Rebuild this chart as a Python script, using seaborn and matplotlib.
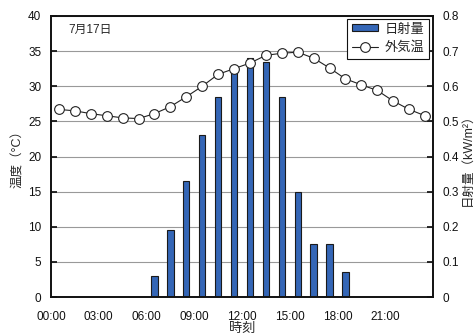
import matplotlib
matplotlib.use("Agg")
import matplotlib.pyplot as plt
import seaborn as sns
import pandas as pd

# ---- data ----
temp_hours = [0.5, 1.5, 2.5, 3.5, 4.5, 5.5, 6.5, 7.5, 8.5, 9.5, 10.5, 11.5,
              12.5, 13.5, 14.5, 15.5, 16.5, 17.5, 18.5, 19.5, 20.5, 21.5, 22.5, 23.5]
temp_values = [26.7, 26.5, 26.1, 25.8, 25.5, 25.4, 26.1, 27.1, 28.5, 30.0, 31.7, 32.5,
               33.3, 34.4, 34.7, 34.85, 34.0, 32.6, 31.05, 30.2, 29.4, 27.9, 26.7, 25.8]
rad_hours = [6.5, 7.5, 8.5, 9.5, 10.5, 11.5, 12.5, 13.5, 14.5, 15.5, 16.5, 17.5, 18.5]
rad_values = [0.06, 0.19, 0.33, 0.46, 0.57, 0.64, 0.68, 0.67, 0.57, 0.30, 0.15, 0.15, 0.07]
xtick_pos = [0, 3, 6, 9, 12, 15, 18, 21]
xtick_labels = ["00:00", "03:00", "06:00", "09:00", "12:00", "15:00", "18:00", "21:00"]
left_ticks = [0, 5, 10, 15, 20, 25, 30, 35, 40]
right_ticks = [0, 0.1, 0.2, 0.3, 0.4, 0.5, 0.6, 0.7, 0.8]
right_labels = ["0", "0.1", "0.2", "0.3", "0.4", "0.5", "0.6", "0.7", "0.8"]
date_label = "7月17日"
series_rad = "日射量"
series_temp = "外気温"

sns.set_theme(style="white")
plt.rcParams["font.family"] = ["Liberation Sans", "Noto Sans CJK JP", "DejaVu Sans"]

fig = plt.figure(figsize=(4.76, 3.36), dpi=100)
ax = fig.add_axes([51/476, 39/336, 382/476, 281/336])
ax2 = ax.twinx()
ax.set_zorder(2)
ax2.set_zorder(1)
ax.patch.set_visible(False)

df_rad = pd.DataFrame({"hour": rad_hours, "rad": rad_values})
df_temp = pd.DataFrame({"hour": temp_hours, "temp": temp_values})

sns.barplot(data=df_rad, x="hour", y="rad", ax=ax2, native_scale=True, width=0.4,
            color="#3466b6", saturation=1, edgecolor="#1a1a1a", linewidth=0.8)
sns.lineplot(data=df_temp, x="hour", y="temp", ax=ax, color="#222222", linewidth=0.8,
             marker="o", markersize=7, markerfacecolor="white",
             markeredgecolor="#222222", markeredgewidth=0.8)

ax.set_xlim(0, 24)
ax.set_ylim(0, 40)
ax2.set_ylim(0, 0.8)
ax.set_xticks(xtick_pos)
ax.set_xticklabels(xtick_labels)
ax.set_yticks(left_ticks)
ax2.set_yticks(right_ticks)
ax2.set_yticklabels(right_labels)

ax2.set_axisbelow(True)
ax2.grid(True, color="#999999", linewidth=0.8)
ax2.xaxis.grid(True)
ax.grid(False)

for a in (ax, ax2):
    for s in a.spines.values():
        s.set_color("#111111")
        s.set_linewidth(1.2)

ax.tick_params(axis="x", direction="in", length=4, pad=10, labelsize=8.5, colors="#111111")
ax.tick_params(axis="y", direction="in", length=4, pad=7, labelsize=8.5, colors="#111111")
ax2.tick_params(axis="y", direction="in", length=4, pad=7, labelsize=8.5, colors="#111111")
ax2.tick_params(axis="x", bottom=False, labelbottom=False)

ax.set_xlabel("時刻", fontsize=9.5, labelpad=0)
ax.set_ylabel("温度（°C）", fontsize=9, labelpad=3)
ax2.set_ylabel("日射量（kW/m²）", fontsize=9, labelpad=2)

ax.text(0.045, 0.95, date_label, transform=ax.transAxes, fontsize=8.5,
        ha="left", va="center")

bars = ax2.containers[0]
line = ax.lines[0]
leg = ax.legend([bars, line], [series_rad, series_temp], loc="upper right",
                bbox_to_anchor=(0.99, 0.99), borderaxespad=0, fontsize=9.5,
                frameon=True, fancybox=False, edgecolor="#111111",
                handlelength=2.0, handleheight=0.45, handletextpad=0.5, borderpad=0.35,
                labelspacing=0.45, framealpha=1)
leg.get_frame().set_linewidth(0.8)

fig.savefig("out.png", dpi=100)
